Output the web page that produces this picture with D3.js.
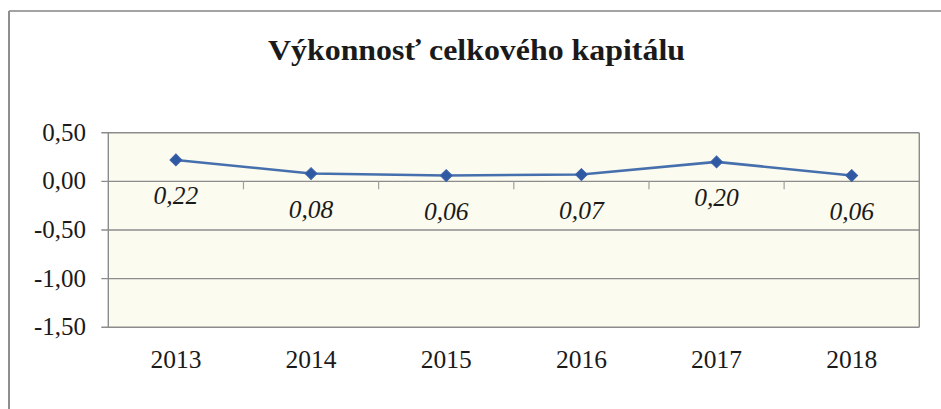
<!DOCTYPE html>
<html>
<head>
<meta charset="utf-8">
<script src="https://cdn.jsdelivr.net/npm/d3@7"></script>
<style>
  html, body { margin: 0; padding: 0; background: #ffffff; }
  svg { display: block; }
  svg text { font-family: "Liberation Serif", "Times New Roman", serif; }
</style>
</head>
<body>
<svg id="chart" width="941" height="409"></svg>
<script>
const title = "Výkonnosť celkového kapitálu";
const years = ["2013", "2014", "2015", "2016", "2017", "2018"];
const values = [0.22, 0.08, 0.06, 0.07, 0.20, 0.06];
const valueLabels = ["0,22", "0,08", "0,06", "0,07", "0,20", "0,06"];
const yTicks = [0.5, 0, -0.5, -1, -1.5];
const yTickLabels = ["0,50", "0,00", "-0,50", "-1,00", "-1,50"];

const svg = d3.select("#chart");

const plot = { left: 108.3, right: 919.3, top: 132.7, bottom: 327.3 };

const x = d3.scaleBand().domain(years).range([plot.left, plot.right]).padding(0);
const y = d3.scaleLinear().domain([-1.5, 0.5]).range([plot.bottom, plot.top]);

// outer frame (top and left edges visible)
svg.append("line").attr("x1", 9).attr("x2", 941).attr("y1", 11).attr("y2", 11)
  .attr("stroke", "#a3a3a3").attr("stroke-width", 2);
svg.append("line").attr("x1", 9).attr("x2", 9).attr("y1", 11).attr("y2", 409)
  .attr("stroke", "#8e8e8e").attr("stroke-width", 2);

// title
svg.append("text")
  .attr("x", 476.5).attr("y", 59.5)
  .attr("text-anchor", "middle")
  .attr("textLength", 417)
  .attr("lengthAdjust", "spacingAndGlyphs")
  .style("font-weight", "bold")
  .style("font-size", "28.5px")
  .attr("fill", "#1a1a1a")
  .text(title);

// plot background
svg.append("rect")
  .attr("x", plot.left).attr("y", plot.top)
  .attr("width", plot.right - plot.left).attr("height", plot.bottom - plot.top)
  .attr("fill", "#fcfbef");

// gridlines
svg.append("g")
  .selectAll("line")
  .data(yTicks)
  .join("line")
  .attr("x1", plot.left - 7).attr("x2", plot.right)
  .attr("y1", d => y(d)).attr("y2", d => y(d))
  .attr("stroke", "#8c8c8c").attr("stroke-width", 1.4);

// left axis line and right border
svg.append("line").attr("x1", plot.left).attr("x2", plot.left)
  .attr("y1", plot.top).attr("y2", plot.bottom)
  .attr("stroke", "#8c8c8c").attr("stroke-width", 1.4);
svg.append("line").attr("x1", plot.right).attr("x2", plot.right)
  .attr("y1", plot.top).attr("y2", plot.bottom)
  .attr("stroke", "#8c8c8c").attr("stroke-width", 1.4);

// category tick marks on zero axis (between categories)
const boundaries = years.slice(1).map(d => x(d));
svg.append("g")
  .selectAll("line")
  .data(boundaries)
  .join("line")
  .attr("x1", d => d).attr("x2", d => d)
  .attr("y1", y(0)).attr("y2", y(0) + 8)
  .attr("stroke", "#a0a0a0").attr("stroke-width", 1.2);

// y tick labels
svg.append("g")
  .selectAll("text")
  .data(yTicks)
  .join("text")
  .attr("x", 86)
  .attr("y", d => y(d) + 8)
  .attr("text-anchor", "end")
  .style("font-size", "25px")
  .attr("fill", "#1a1a1a")
  .text((d, i) => yTickLabels[i]);

// x labels
svg.append("g")
  .selectAll("text")
  .data(years)
  .join("text")
  .attr("x", d => x(d) + x.bandwidth() / 2)
  .attr("y", 368)
  .attr("text-anchor", "middle")
  .style("font-size", "25.5px")
  .attr("fill", "#1a1a1a")
  .text(d => d);

// line
const pts = years.map((d, i) => [x(d) + x.bandwidth() / 2, y(values[i])]);
svg.append("path")
  .datum(pts)
  .attr("d", d3.line())
  .attr("fill", "none")
  .attr("stroke", "#4670ad")
  .attr("stroke-width", 2.6);

// markers
svg.append("g")
  .selectAll("path")
  .data(pts)
  .join("path")
  .attr("d", d3.symbol(d3.symbolSquare, 70))
  .attr("transform", d => `translate(${d[0]},${d[1]}) rotate(45)`)
  .attr("fill", "#2f59a3")
  .attr("stroke", "#3a62a8")
  .attr("stroke-width", 1);

// data labels
svg.append("g")
  .selectAll("text")
  .data(pts)
  .join("text")
  .attr("x", d => d[0])
  .attr("y", d => d[1] + 44)
  .attr("text-anchor", "middle")
  .style("font-style", "italic")
  .style("font-size", "25.5px")
  .attr("fill", "#1a1a1a")
  .text((d, i) => valueLabels[i]);
</script>
</body>
</html>
